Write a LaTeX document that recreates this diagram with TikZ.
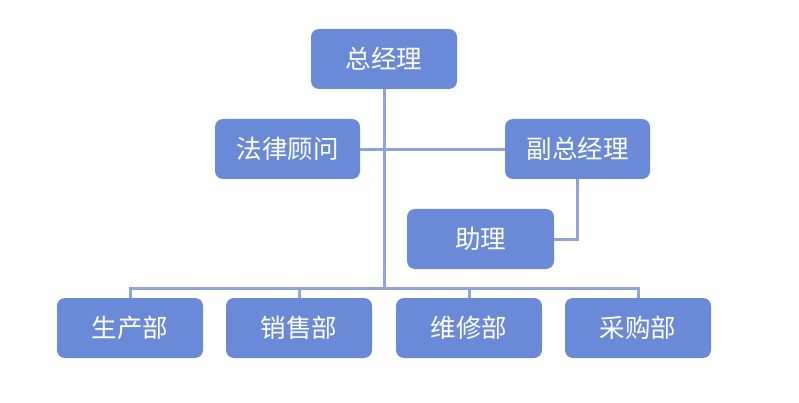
\documentclass[tikz,border=0pt]{standalone}
\usepackage{fontspec}
\newfontfamily\cjk{Noto Sans CJK SC}
\definecolor{boxfill}{HTML}{6A8AD8}
\definecolor{linecol}{HTML}{90A4D8}
\begin{document}
\begin{tikzpicture}[x=1pt,y=-1pt,
  orgbox/.style={draw=none,fill=boxfill,rounded corners=8pt,minimum width=146pt,minimum height=60pt,inner sep=0pt,text=white,font=\cjk\fontsize{25.5}{26}\selectfont},
  conn/.style={draw=linecol,line width=3pt}]
\useasboundingbox (0,0) rectangle (799,403);
\fill[white] (0,0) rectangle (799,403);
\node[orgbox] (gm) at (384,59) {总经理};
\node[orgbox,minimum width=145pt] (legal) at (287.5,149) {法律顾问};
\node[orgbox,minimum width=145pt] (dgm) at (577.5,149) {副总经理};
\node[orgbox,minimum width=147pt] (asst) at (480.5,239) {助理};
\node[orgbox] (d1) at (130,328) {生产部};
\node[orgbox] (d2) at (299,328) {销售部};
\node[orgbox] (d3) at (469,328) {维修部};
\node[orgbox] (d4) at (638,328) {采购部};
\coordinate (bus) at (384,288);
\draw[conn] (gm.south) -- (bus);
\draw[conn] (legal.east |- 0,150) -- (dgm.west |- 0,150);
\draw[conn] (dgm.south) |- (asst.east);
\draw[conn] (d1.north) |- (bus) -| (d4.north);
\draw[conn] (d2.north) -- (d2.north |- bus);
\draw[conn] (d3.north) -- (d3.north |- bus);
\end{tikzpicture}
\end{document}
